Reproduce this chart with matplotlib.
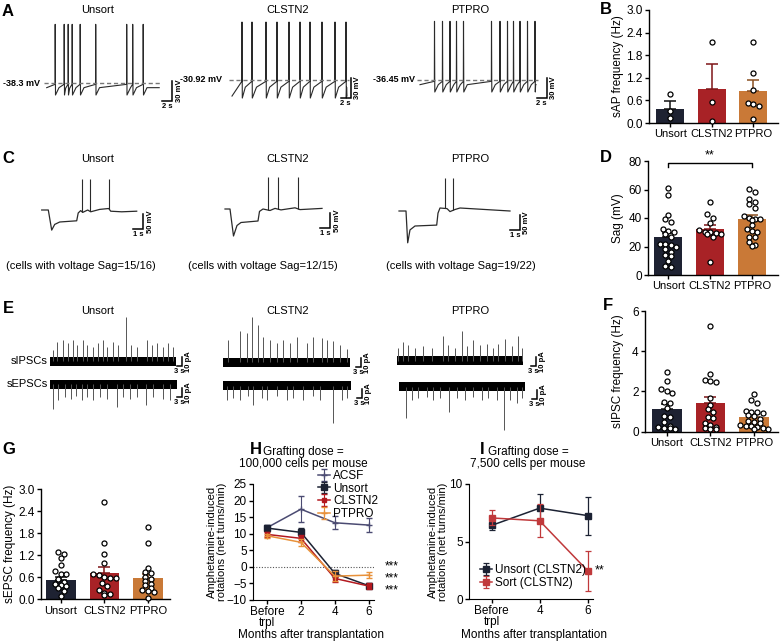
import matplotlib
matplotlib.use("Agg")
import matplotlib.pyplot as plt
import numpy as np

plt.rcParams["font.family"] = ["Liberation Sans", "DejaVu Sans"]

W, H = 784, 643

GROUPS = ["Unsort", "CLSTN2", "PTPRO"]
BAR_COLORS = ["#1e2232", "#a82226", "#c97937"]
ERR_COLORS = ["#111111", "#7e1518", "#8a5020"]
TRACE = "#2a2a2a"

# ---- B: spontaneous AP frequency (Hz)
sap_mean = [0.38, 0.91, 0.86]
sap_sem = [0.21, 0.65, 0.27]
sap_pts = [[0.78, 0.32, 0.12],
           [2.16, 0.56, 0.04],
           [2.16, 1.34, 0.88, 0.53, 0.51, 0.44, 0.11]]

# ---- D: sag (mV)
sag_mean = [26.5, 32.3, 39.0]
sag_sem = [3.0, 2.5, 3.2]
sag_pts = [[61, 56, 42, 39, 37, 32, 31, 30, 28.5, 27, 22, 21.5, 21, 20, 18, 16, 14, 13, 10, 6, 5.5],
           [51, 42.5, 40, 36.5, 31.5, 30.5, 30, 29.5, 29, 28.5, 27, 9],
           [60.5, 58.5, 53.5, 51.5, 49.5, 47, 41.5, 40, 39.5, 39, 38.5, 35, 32, 31, 30.5, 27,
            26.5, 23.5, 21, 20.5]]

# ---- F: sIPSC frequency (Hz)
ipsc_mean = [1.14, 1.41, 0.73]
ipsc_sem = [0.22, 0.33, 0.13]
ipsc_pts = [[2.95, 2.52, 2.12, 2.04, 1.94, 1.48, 1.42, 1.18, 0.8, 0.75, 0.5, 0.3, 0.25, 0.2, 0.18, 0.15],
            [5.25, 2.85, 2.57, 2.52, 2.47, 1.69, 1.34, 1.12, 1.0, 0.72, 0.66, 0.42, 0.35, 0.22, 0.2,
             0.15, 0.12],
            [1.87, 1.6, 1.44, 1.04, 0.99, 0.96, 0.92, 0.82, 0.78, 0.62, 0.55, 0.5, 0.45, 0.33, 0.3,
             0.28, 0.22, 0.2, 0.15, 0.12]]

# ---- G: sEPSC frequency (Hz)
epsc_mean = [0.52, 0.71, 0.58]
epsc_sem = [0.09, 0.16, 0.11]
epsc_pts = [[1.29, 1.22, 1.12, 0.93, 0.77, 0.7, 0.68, 0.55, 0.47, 0.42, 0.4, 0.35, 0.3, 0.22, 0.1],
            [2.66, 1.54, 1.22, 0.98, 0.68, 0.66, 0.6, 0.58, 0.58, 0.43, 0.35, 0.24, 0.18, 0.15, 0.12],
            [1.97, 1.52, 0.86, 0.74, 0.72, 0.62, 0.56, 0.5, 0.42, 0.38, 0.3, 0.25, 0.22, 0.2, 0.03]]

# ---- H: rotations, 100,000 cells
h_months = ["Before\ntrpl", "2", "4", "6"]
h_series = ["ACSF", "Unsort", "CLSTN2", "PTPRO"]
h_mean = [[11.8, 17.4, 13.3, 12.6],
          [11.7, 10.4, -2.0, -5.7],
          [9.8, 8.6, -3.5, -5.8],
          [9.4, 7.4, -2.8, -2.5]]
h_err = [[0.8, 4.0, 2.0, 2.0],
         [1.0, 1.2, 1.2, 0.8],
         [0.7, 1.0, 1.0, 0.8],
         [0.6, 1.0, 1.5, 1.0]]

# ---- I: rotations, 7,500 cells
i_months = ["Before\ntrpl", "4", "6"]
i_series = ["Unsort (CLSTN2)", "Sort (CLSTN2)"]
i_mean = [[6.4, 7.9, 7.25], [7.05, 6.8, 2.45]]
i_err = [[0.4, 1.25, 1.65], [0.65, 1.45, 1.75]]

# ---- A: spontaneous firing traces (spike times in s, RMP in mV)
ap_rmp = [-38.3, -30.92, -36.45]
ap_dur = [22.5, 23.0, 23.2]
ap_spikes = [[1.7, 3.5, 4.3, 5.1, 6.7, 9.8, 16.0, 17.2, 19.3],
             [2.0, 4.0, 6.8, 9.0, 11.4, 13.6, 15.6, 18.0, 20.6, 22.8],
             [2.9, 4.5, 6.0, 7.3, 8.7, 14.3, 16.0, 17.5, 18.7, 20.0, 21.5, 23.0]]

# ---- C: sag traces (keypoints s / mV, spike times)
sag_t = [[0, 0.66, 1.0, 1.3, 1.8, 3.5, 3.65, 3.9, 4.1, 4.6, 4.9, 5.8, 6.7, 6.9, 8.0, 9.5],
         [0, 0.5, 0.85, 1.2, 1.6, 3.3, 3.45, 3.8, 4.5, 5.0, 5.6, 7.0, 7.5, 9.7],
         [0, 0.7, 0.87, 1.1, 1.6, 3.77, 3.9, 4.1, 4.8, 5.1, 5.6, 6.1, 11.1]]
sag_v = [[-60, -60, -127, -108, -100, -96, -70, -62, -68, -60, -66, -58, -55, -64, -66, -64],
         [-60, -60, -150, -115, -105, -100, -68, -60, -65, -58, -63, -56, -62, -58],
         [-60, -60, -166, -123, -110, -107, -67, -50, -52, -62, -55, -50, -60]]
sag_spk = [[4.0, 4.83, 6.73], [4.33, 5.33, 7.27], [4.6, 5.43]]
sag_peak = [43, 48, 50]
sag_caption = ["(cells with voltage Sag=15/16)", "(cells with voltage Sag=12/15)",
               "(cells with voltage Sag=19/22)"]

# ---- E: synaptic currents (event time s, amplitude pA)
ipsc_dur = [75.6, 76.4, 75.6]
ipsc_t = [[2.0, 4.4, 7.6, 11.0, 13.6, 16.4, 20.0, 22.4, 26.0, 29.0, 32.0, 34.4, 38.0, 41.0, 45.6,
           48.6, 52.0, 58.0, 61.0, 64.0, 68.0, 71.0, 74.0],
          [3.4, 10.4, 14.4, 17.8, 21.4, 24.4, 28.4, 32.4, 36.4, 40.4, 44.4, 50.4, 54.4, 59.4, 62.4,
           66.4, 70.4, 74.4],
          [1.0, 4.0, 7.0, 11.0, 16.0, 21.0, 28.0, 31.0, 35.0, 39.0, 42.0, 46.0, 50.0, 54.0, 58.0,
           61.0, 65.0, 69.0, 73.0, 75.0]]
ipsc_amp = [[12, 21, 23, 20, 23, 18, 23, 18, 16, 20, 23, 16, 21, 18, 49, 18, 16, 23, 18, 20, 16, 20, 16],
            [24, 34, 32, 50, 41, 28, 24, 21, 24, 21, 28, 21, 28, 27, 24, 23, 19, 15],
            [14, 21, 17, 14, 16, 14, 27, 17, 14, 33, 16, 23, 17, 19, 14, 19, 24, 16, 27, 14]]
epsc_dur = [76.0, 76.6, 75.6]
epsc_t = [[2.0, 5.0, 9.0, 12.4, 15.6, 19.0, 22.4, 26.0, 30.0, 34.0, 40.0, 44.0, 48.0, 52.4, 57.6,
           62.0, 68.0, 72.0],
          [2.2, 6.2, 10.2, 15.2, 18.2, 23.2, 26.2, 32.2, 38.2, 42.2, 48.2, 54.2, 58.2, 66.2, 71.2, 74.2],
          [4.2, 7.6, 11.6, 16.6, 20.6, 24.6, 30.2, 34.6, 39.6, 44.6, 49.6, 53.6, 58.6, 63.0, 66.6,
           70.6, 73.6]]
epsc_amp = [[27, 17, 14, 16, 13, 17, 14, 17, 14, 16, 25, 14, 16, 14, 23, 14, 16, 17],
            [16, 14, 16, 12, 21, 14, 16, 12, 16, 14, 16, 12, 16, 42, 16, 14],
            [35, 15, 13, 11, 15, 13, 28, 13, 15, 11, 15, 13, 15, 48, 15, 18, 13]]

fig = plt.figure(figsize=(W / 100, H / 100), dpi=100)


def px_axes(x0, y0, x1, y1):
    return fig.add_axes([x0 / W, 1 - y1 / H, (x1 - x0) / W, (y1 - y0) / H])


def ftext(x, y, s, **kw):
    kw.setdefault("ha", "center")
    kw.setdefault("va", "center")
    fig.text(x / W, 1 - y / H, s, **kw)


def trace_axes(box, ref_px, ref_val, sx, sy):
    """Axes with no frame; ref_val (t, v) sits at pixel ref_px, sx/sy in px per unit."""
    x0, y0, x1, y1 = box
    ax = px_axes(x0, y0, x1, y1)
    xr, yr = ref_px
    tr, vr = ref_val
    ax.set_xlim(tr - (xr - x0) / sx, tr + (x1 - xr) / sx)
    ax.set_ylim(vr - (y1 - yr) / sy, vr + (yr - y0) / sy)
    ax.axis("off")
    return ax


def scale_bar(ax, x, y, dx, dy, xlab, ylab):
    ax.plot([x - dx, x, x], [y, y, y + dy], color="k", lw=1.1, clip_on=False,
            solid_joinstyle="miter")
    ax.annotate(xlab, (x - dx / 2, y), xytext=(0, -1.5), textcoords="offset points",
                ha="center", va="top", fontsize=5.5, weight="bold")
    ax.annotate(ylab, (x, y + dy / 2), xytext=(2.5, 0), textcoords="offset points",
                ha="left", va="center", rotation=90, fontsize=5.5, weight="bold")


def ap_wave(spikes, dur, v_th, v_trough, v_peak, v_rest, ramp):
    t, v = [0.0], [v_rest]
    for i, s in enumerate(spikes):
        t += [s - 0.03, s, s + 0.06]
        v += [v_th, v_peak, v_trough]
        nxt = spikes[i + 1] if i + 1 < len(spikes) else dur
        gap = nxt - s
        if gap > ramp + 0.3:
            t.append(s + 0.06 + ramp)
            v.append(v_rest)
        else:
            t.append(s + 0.06 + 0.3 * gap)
            v.append(v_trough + 0.65 * (v_th - v_trough))
    t.append(dur)
    v.append(v_rest)
    return t, v


def spread(vals, span, step):
    """Horizontal offsets so that dots of similar value sit side by side."""
    vals = np.asarray(vals, float)
    order = np.argsort(-vals)
    offs = np.zeros(len(vals))
    i = 0
    while i < len(order):
        j = i
        while j + 1 < len(order) and vals[order[i]] - vals[order[j + 1]] < span:
            j += 1
        n = j - i + 1
        offs[order[i:j + 1]] = (np.arange(n) - (n - 1) / 2) * step
        i = j + 1
    return offs


def bar_panel(box, means, sems, pts, ylim, yticks, fmt, ylabel, ylabel_x, xlim):
    ax = px_axes(*box)
    for i in range(3):
        ax.bar(i, means[i], width=0.68, color=BAR_COLORS[i], zorder=1)
        ax.errorbar(i, means[i], yerr=[[0], [sems[i]]], color=ERR_COLORS[i], lw=1.1,
                    capsize=4.5, capthick=1.1, zorder=2)
        offs = spread(pts[i], (ylim[1] - ylim[0]) * 0.035, 0.13)
        ax.scatter(i + offs, pts[i], s=13, facecolor="white", edgecolor="black",
                   linewidth=0.9, zorder=3, clip_on=False)
    ax.set_xlim(*xlim)
    ax.set_ylim(*ylim)
    ax.set_yticks(yticks)
    ax.set_yticklabels([fmt.format(v) for v in yticks])
    ax.set_xticks(range(3))
    ax.set_xticklabels(GROUPS, fontsize=8)
    for s in ("top", "right"):
        ax.spines[s].set_visible(False)
    for s in ("left", "bottom"):
        ax.spines[s].set_linewidth(1.0)
    ax.tick_params(direction="out", length=3, width=1, labelsize=8.5, pad=1.5)
    ax.tick_params(axis="x", labelsize=8)
    y0, y1 = box[1], box[3]
    ftext(ylabel_x, (y0 + y1) / 2, ylabel, rotation=90, fontsize=8.5)
    return ax


# ================= A: spontaneous firing =================
ap_cols = [(46.7, 83), (232, 80), (420, 80)]
ap_titles_x = [98, 288, 470]
ap_label_x = [40, 222, 415]
ap_bar_gap = [2.6, 0.7, 2.1]
for k in range(3):
    xr, yr = ap_cols[k]
    ax = trace_axes((xr - 10, 15, xr + 150, 115), (xr, yr), (0, ap_rmp[k]), 5.0, 2 / 3)
    rmp = ap_rmp[k]
    if k == 1:
        t, v = ap_wave(ap_spikes[k], ap_dur[k], rmp - 2, -58, 56, -55, 99)
    else:
        t, v = ap_wave(ap_spikes[k], ap_dur[k], rmp - 2, rmp - 18, rmp + 88, rmp - 7, 0.7)
    ax.plot(t, v, color=TRACE, lw=0.8)
    ax.plot([-0.6, ap_dur[k] + 0.4], [rmp, rmp], color="#777777", lw=1.0, ls=(0, (3, 2)))
    scale_bar(ax, ap_dur[k] + ap_bar_gap[k], rmp - 27, 2, 30, "2 s", "30 mV")
    ftext(ap_label_x[k], yr, f"{rmp:g} mV", ha="right", fontsize=6.5, weight="bold")
    ftext(ap_titles_x[k], 10, GROUPS[k], fontsize=8)

# ================= C: sag traces =================
sag_cols = [(41.7, 210), (225, 209), (399, 211)]
sag_caption_x = [81, 263, 461]
sag_bar_gap = [0.66, 0.83, 1.0]
for k in range(3):
    xr, yr = sag_cols[k]
    ax = trace_axes((xr - 10, 170, xr + 140, 250), (xr, yr), (0, -60), 10.0, 0.3)
    ax.plot(sag_t[k], sag_v[k], color=TRACE, lw=0.9)
    base = np.interp(sag_spk[k], sag_t[k], sag_v[k])
    ax.vlines(sag_spk[k], base, sag_peak[k], color=TRACE, lw=0.8)
    scale_bar(ax, sag_t[k][-1] + sag_bar_gap[k], -123, 1, 50, "1 s", "50 mV")
    ftext(ap_titles_x[k], 159, GROUPS[k], fontsize=8)
    ftext(sag_caption_x[k], 266, sag_caption[k], fontsize=8)

# ================= E: sIPSC / sEPSC traces =================
ipsc_cols = [(50, 361), (222.7, 362), (396.7, 360.7)]
epsc_cols = [(50, 384.3), (223, 385.7), (399, 386.7)]
ipsc_gap = [3.4, 6.4, 7.8]
epsc_gap = [3.2, 6.8, 7.2]
for k in range(3):
    xr, yr = ipsc_cols[k]
    ax = trace_axes((xr - 5, 312, xr + 150, 372), (xr, yr), (0, 0), 1 / 0.6, 0.9)
    ax.fill_between([0, ipsc_dur[k]], -5, 5, color="black", lw=0)
    ax.vlines(ipsc_t[k], 0, ipsc_amp[k], color="#555555", lw=0.7)
    scale_bar(ax, ipsc_dur[k] + ipsc_gap[k], -6, 3, 10, "3 s", "10 pA")

    xr, yr = epsc_cols[k]
    ax = trace_axes((xr - 5, 372, xr + 150, 440), (xr, yr), (0, 0), 1 / 0.6, 0.9)
    ax.fill_between([0, epsc_dur[k]], -5, 5, color="black", lw=0)
    ax.vlines(epsc_t[k], 0, [-a for a in epsc_amp[k]], color="#555555", lw=0.7)
    scale_bar(ax, epsc_dur[k] + epsc_gap[k], -14, 3, 10, "3 s", "10 pA")
    ftext(ap_titles_x[k], 311, GROUPS[k], fontsize=8)
ftext(48, 361, "sIPSCs", ha="right", fontsize=8)
ftext(48, 384, "sEPSCs", ha="right", fontsize=8)

# ================= B, D, F, G: bar charts =================
bar_panel((649, 10, 778, 123), sap_mean, sap_sem, sap_pts, (0, 3.0),
          [0, 0.6, 1.2, 1.8, 2.4, 3.0], "{:.1f}", "sAP frequency (Hz)", 618, (-0.51, 2.6))

axd = bar_panel((648, 161, 778, 275), sag_mean, sag_sem, sag_pts, (0, 80),
                [0, 20, 40, 60, 80], "{:g}", "Sag (mV)", 618, (-0.48, 2.62))
axd.plot([0, 0, 2, 2], [75.5, 78.6, 78.6, 75.5], color="k", lw=1.0, clip_on=False)
axd.text(1, 80, "**", ha="center", va="bottom", fontsize=9)

bar_panel((645, 311, 778, 431.7), ipsc_mean, ipsc_sem, ipsc_pts, (0, 6),
          [0, 2, 4, 6], "{:g}", "sIPSC frequency (Hz)", 618, (-0.5, 2.55))

bar_panel((41, 489, 170, 599.3), epsc_mean, epsc_sem, epsc_pts, (0, 3.0),
          [0, 0.6, 1.2, 1.8, 2.4, 3.0], "{:.1f}", "sEPSC frequency (Hz)", 10, (-0.45, 2.5))

# ================= H: rotations 100,000 cells =================
H_COLORS = ["#4b4b72", "#1c2233", "#b3191f", "#e8913a"]
H_MARKERS = [("+", 4.5), ("s", 5), ("s", 3.5), ("+", 4)]
axh = px_axes(253, 484, 374, 600)
xh = np.arange(len(h_months))
for k in range(4):
    m, ms = H_MARKERS[k]
    axh.errorbar(xh, h_mean[k], yerr=h_err[k], color=H_COLORS[k], lw=1.1, elinewidth=0.8,
                 capsize=2.5, capthick=0.8, marker=m, ms=ms, mew=1.0, label=h_series[k],
                 zorder=3 + k)
axh.axhline(0, color="#555555", lw=0.8, ls=(0, (1, 1.5)))
axh.set_xlim(-0.41, 3.15)
axh.set_ylim(-10, 25)
axh.set_yticks(range(-10, 26, 5))
axh.set_xticks(xh)
axh.set_xticklabels(h_months, linespacing=0.85)
for s in ("top", "right"):
    axh.spines[s].set_visible(False)
axh.tick_params(direction="out", length=3, width=1, labelsize=8.5, pad=1.5)
axh.legend(loc="upper left", bbox_to_anchor=(318 / W, 1 - 470 / H), bbox_transform=fig.transFigure,
           frameon=False, fontsize=8.5, handlelength=1.0, handletextpad=0.3, labelspacing=0.05,
           borderpad=0, borderaxespad=0)
for yv in (0, -3.6, -7.0):
    axh.text(3.47, yv, "***", ha="left", va="center", fontsize=8.5, clip_on=False)
ftext(303, 452, "Grafting dose =", fontsize=8.5)
ftext(303, 464, "100,000 cells per mouse", fontsize=8.5)
ftext(217, 542, "Amphetamine-induced\nrotations (net turns/min)", rotation=90, fontsize=8,
      linespacing=1.0)
ftext(311, 635, "Months after transplantation", fontsize=8.5)

# ================= I: rotations 7,500 cells =================
I_COLORS = ["#1c2233", "#c0393b"]
I_MARKERS = [("s", 5), ("s", 4)]
axi = px_axes(469, 484, 593, 599)
xi = np.arange(len(i_months))
for k in range(2):
    m, ms = I_MARKERS[k]
    axi.errorbar(xi, i_mean[k], yerr=i_err[k], color=I_COLORS[k], lw=1.1, elinewidth=0.9,
                 capsize=2.5, capthick=0.9, marker=m, ms=ms, label=i_series[k], zorder=3 + k)
axi.set_xlim(-0.47, 2.11)
axi.set_ylim(0, 10)
axi.set_yticks([0, 5, 10])
axi.set_xticks(xi)
axi.set_xticklabels(i_months, linespacing=0.85)
for s in ("top", "right"):
    axi.spines[s].set_visible(False)
axi.tick_params(direction="out", length=3, width=1, labelsize=8.5, pad=1.5)
axi.legend(loc="upper left", bbox_to_anchor=(480 / W, 1 - 564 / H), bbox_transform=fig.transFigure,
           frameon=False, fontsize=8.5, handlelength=1.0, handletextpad=0.3, labelspacing=0.1,
           borderpad=0, borderaxespad=0)
axi.text(2.14, i_mean[1][2], "**", ha="left", va="center", fontsize=9, clip_on=False)
ftext(528, 452, "Grafting dose =", fontsize=8.5)
ftext(528, 464, "7,500 cells per mouse", fontsize=8.5)
ftext(438, 542, "Amphetamine-induced\nrotations (net turns/min)", rotation=90, fontsize=8,
      linespacing=1.0)
ftext(534, 635, "Months after transplantation", fontsize=8.5)

# ================= panel letters =================
for letter, x, y in [("A", 8, 11), ("B", 606, 10), ("C", 8, 159), ("D", 606, 157),
                     ("E", 8, 309), ("F", 608, 306), ("G", 9, 450), ("H", 256, 450),
                     ("I", 482, 450)]:
    ftext(x, y, letter, fontsize=12, weight="bold")

fig.savefig("out.png", dpi=100)
